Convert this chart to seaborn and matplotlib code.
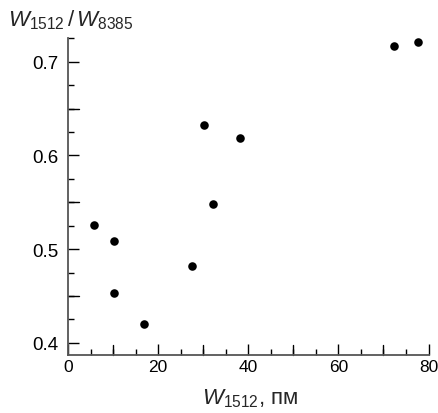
import matplotlib
matplotlib.use("Agg")
import matplotlib.pyplot as plt
from matplotlib.ticker import MultipleLocator
import numpy as np
import pandas as pd
import seaborn as sns

# Linewidth W1512 (pm) and ratio W1512 / W8385
w1512 = [5.8, 10.2, 10.2, 16.9, 27.6, 30.2, 32.1, 38.2, 72.4, 77.7]
ratio = [0.526, 0.509, 0.453, 0.420, 0.482, 0.632, 0.548, 0.619, 0.717, 0.721]

x_ticklabels = [0, 20, 40, 60, 80]
y_ticklabels = [0.4, 0.5, 0.6, 0.7]

df = pd.DataFrame({"w1512": w1512, "ratio": ratio})

sns.set_theme(style="ticks")
plt.rcParams["font.family"] = ["Liberation Sans", "DejaVu Sans"]
plt.rcParams["mathtext.fontset"] = "custom"
plt.rcParams["mathtext.rm"] = "Liberation Sans"
plt.rcParams["mathtext.it"] = "Liberation Sans:italic"

fig = plt.figure(figsize=(4.38, 4.14), dpi=100)
ax = fig.add_axes([68 / 438, 1 - 356 / 414, (428.5 - 68) / 438, (356 - 39.3) / 414])

sns.scatterplot(data=df, x="w1512", y="ratio", ax=ax, color="black",
                s=38, edgecolor="black", linewidth=0, legend=False)

ax.set_xlim(0, 80)
ax.set_ylim(0.387, 0.725)

ax.set_xticks(x_ticklabels)
ax.set_xticklabels([str(v) for v in x_ticklabels])
ax.xaxis.set_minor_locator(MultipleLocator(5))
ax.set_yticks(y_ticklabels)
ax.set_yticklabels([f"{v:.1f}" for v in y_ticklabels])
ax.yaxis.set_minor_locator(MultipleLocator(0.025))

# long ticks at the unlabeled 10-step / 0.05-step positions
for v in [10, 30, 50, 70]:
    ax.plot([v, v], [0, 0.032], transform=ax.get_xaxis_transform(),
            color="black", lw=1.0, clip_on=False)
for v in [0.45, 0.55, 0.65]:
    ax.plot([0, 0.03], [v, v], transform=ax.get_yaxis_transform(),
            color="black", lw=1.0, clip_on=False)

ax.tick_params(axis="both", which="major", direction="in", length=8,
               width=1.0, color="black", labelcolor="black")
ax.tick_params(axis="x", which="major", pad=3, labelsize=12.5)
ax.tick_params(axis="y", which="major", pad=7, labelsize=13.5)
ax.tick_params(axis="both", which="minor", direction="in", length=4,
               width=1.0, color="black")

sns.despine(ax=ax)
for side in ("left", "bottom"):
    ax.spines[side].set_color("#555555")
    ax.spines[side].set_linewidth(1.3)

ax.set_xlabel("")
ax.set_ylabel("")
fig.text(250 / 438, 1 - 399 / 414, r"$\mathit{W}_{1512}$, пм",
         ha="center", va="center", fontsize=16)
fig.text(8 / 438, 1 - 20 / 414, r"$\mathit{W}_{1512}\,/\,\mathit{W}_{8385}$",
         ha="left", va="center", fontsize=16)

fig.savefig("out.png", dpi=100, facecolor="white")
